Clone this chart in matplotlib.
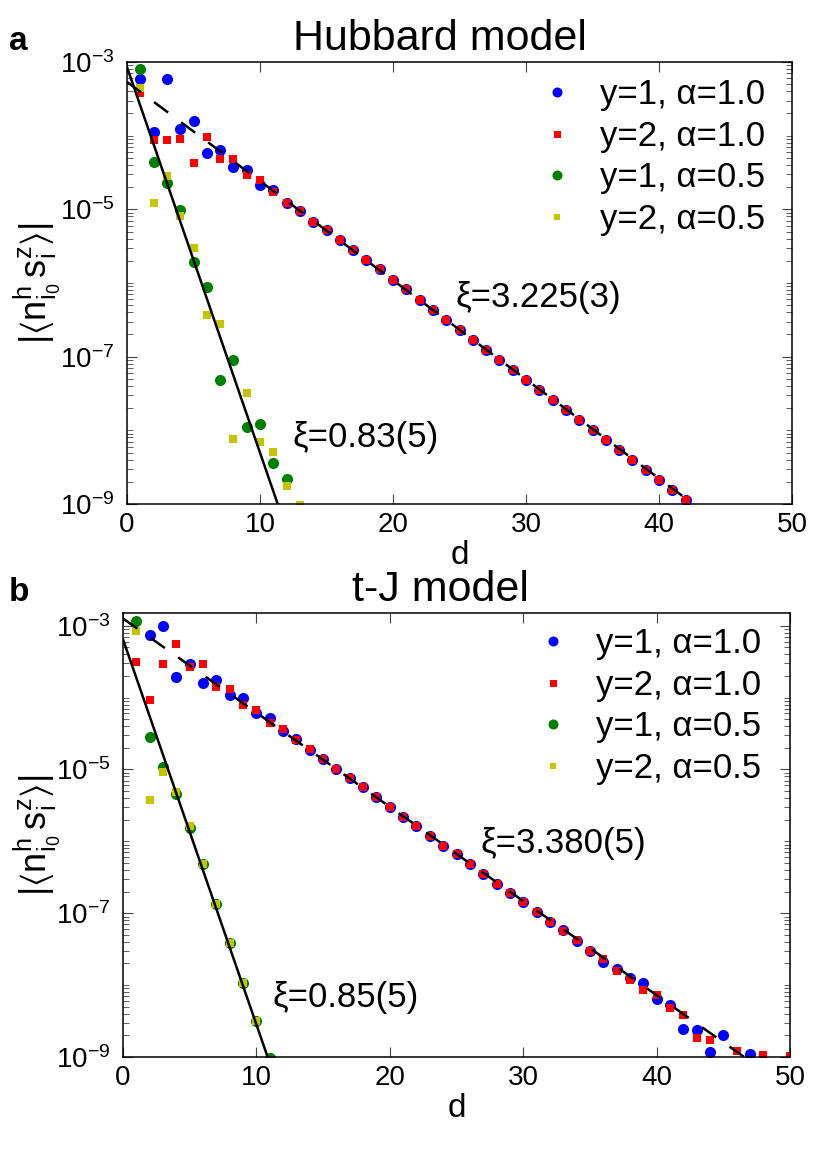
import numpy as np
import matplotlib
matplotlib.use("Agg")
import matplotlib.pyplot as plt
from matplotlib.ticker import FixedLocator, LogLocator, NullFormatter, FuncFormatter

plt.rcParams['font.family'] = ['Liberation Sans', 'DejaVu Sans']
plt.rcParams['mathtext.fontset'] = 'custom'
plt.rcParams['mathtext.rm'] = 'Liberation Sans'
plt.rcParams['mathtext.it'] = 'Liberation Sans:italic'
plt.rcParams['mathtext.fallback'] = 'stixsans'

############ data (log10 of |<n^h s^z>|) ############
# panel a: Hubbard model
a_d_blue = list(range(1, 43))
a_log_blue = [-3.235, -3.944, -3.235, -3.913, -3.80, -4.23, -4.19, -4.43, -4.47, -4.67,
              -4.74, -4.91, -5.02, -5.17, -5.28, -5.42, -5.55, -5.69, -5.81, -5.96,
              -6.08, -6.23, -6.365, -6.50, -6.64, -6.77, -6.91, -7.04, -7.18, -7.31,
              -7.45, -7.59, -7.72, -7.86, -8.00, -8.13, -8.27, -8.40, -8.54, -8.68,
              -8.81, -8.94]
a_d_red = list(range(1, 43))
a_log_red = [-3.42, -4.06, -4.06, -4.05, -4.37, -4.02, -4.32, -4.31, -4.54, -4.60,
             -4.77, -4.91, -5.02, -5.17, -5.28, -5.42, -5.55, -5.69, -5.81, -5.96,
             -6.08, -6.23, -6.365, -6.50, -6.64, -6.77, -6.91, -7.04, -7.18, -7.31,
             -7.45, -7.59, -7.72, -7.86, -8.00, -8.13, -8.27, -8.40, -8.54, -8.68,
             -8.81, -8.94]
a_d_green = list(range(1, 13))
a_log_green = [-3.09, -4.36, -4.64, -5.01, -5.72, -6.05, -7.32, -7.05, -7.96, -7.91,
               -8.44, -8.66]
a_d_yellow = list(range(1, 14))
a_log_yellow = [-3.35, -4.92, -4.55, -5.09, -5.52, -6.43, -6.56, -8.12, -7.50, -8.16,
                -8.30, -8.75, -9.02]

# panel b: t-J model
b_d_blue = list(range(2, 46)) + [47]
b_log_blue = [-3.135, -3.00, -3.71, -3.53, -3.80, -3.75, -3.97, -4.01, -4.22, -4.29,
              -4.47, -4.58, -4.73, -4.85, -4.99, -5.12, -5.25, -5.385, -5.52, -5.655,
              -5.79, -5.92, -6.06, -6.18, -6.32, -6.45, -6.59, -6.72, -6.85, -6.98,
              -7.12, -7.24, -7.39, -7.52, -7.68, -7.77, -7.905, -7.975, -8.20, -8.28,
              -8.61, -8.62, -8.93, -8.69, -8.96]
b_d_red = list(range(1, 45)) + [46, 48, 50]
b_log_red = [-3.50, -4.04, -3.54, -3.25, -3.57, -3.53, -3.85, -3.88, -4.10, -4.17,
             -4.35, -4.44, -4.59, -4.72, -4.85, -4.99, -5.12, -5.25, -5.385, -5.52,
             -5.655, -5.79, -5.92, -6.06, -6.18, -6.32, -6.45, -6.59, -6.72, -6.85,
             -6.98, -7.12, -7.25, -7.37, -7.52, -7.64, -7.80, -7.93, -8.07, -8.14,
             -8.32, -8.415, -8.73, -8.77, -8.91, -8.97, -8.99]
b_d_green = list(range(1, 12))
b_log_green = [-2.94, -4.555, -4.96, -5.34, -5.82, -6.31, -6.87, -7.41, -7.97, -8.50, -9.01]
b_d_yellow = list(range(1, 11))
b_log_yellow = [-3.08, -5.43, -5.03, -5.32, -5.79, -6.31, -6.87, -7.41, -7.97, -8.50]

# fitted exponential decays, as two end points (d, log10)
a_fit_long = [(0, -3.27), (50, -10.0)]
a_fit_short = [(0, -3.07), (12, -9.35)]
b_fit_long = [(0, -2.90), (50, -9.45)]
b_fit_short = [(0, -3.19), (12, -9.62)]

labels = ["y=1, α=1.0", "y=2, α=1.0", "y=1, α=0.5", "y=2, α=0.5"]
###############################################

W, H = 831, 1154
fig = plt.figure(figsize=(W / 100, H / 100), dpi=100)


def ylab(v, pos):
    return r'$\mathregular{10^{%d}}$' % int(round(np.log10(v)))


def panel(rect_px, ylim, series, fits, title, letter, xi_texts, leg_anchor):
    l, t, r, b = rect_px
    ax = fig.add_axes([l / W, 1 - b / H, (r - l) / W, (b - t) / H])
    styles = [('o', 'blue', 8.0), ('s', 'red', 5.6), ('o', 'green', 8.0), ('s', '#c4c400', 5.4)]
    for (d, lg), lab, (mk, c, ms) in zip(series, labels, styles):
        ax.plot(d, 10.0 ** np.array(lg), mk, color=c, ms=ms, mec=c, mew=0, label=lab)
    for (p0, p1), ls in zip(fits, ['--', '-']):
        ln, = ax.plot([p0[0], p1[0]], [10.0 ** p0[1], 10.0 ** p1[1]], ls, color='black', lw=1.8)
        if ls == '--':
            ln.set_dashes((7, 6.5))
    ax.set_yscale('log')
    ax.set_xlim(0, 50)
    ax.set_ylim(*ylim)
    ax.set_xticks(range(0, 51, 10))
    ax.yaxis.set_major_locator(FixedLocator([1e-3, 1e-5, 1e-7, 1e-9]))
    ax.yaxis.set_major_formatter(FuncFormatter(ylab))
    ax.yaxis.set_minor_locator(LogLocator(base=10, subs=np.arange(1, 10), numticks=100))
    ax.yaxis.set_minor_formatter(NullFormatter())
    ax.tick_params(which='both', direction='in', top=True, right=True, labelsize=20, color='#444444')
    ax.tick_params(axis='x', which='major', length=7, pad=6)
    ax.tick_params(axis='y', which='major', length=7, pad=9)
    ax.tick_params(which='minor', length=4)
    for s in ax.spines.values():
        s.set_linewidth(1.1)
    ax.set_xlabel('d', fontsize=24, labelpad=1)
    ax.set_ylabel(r'$\mathrm{|\langle n^{h}_{i_0}\, s^{z}_{i}\rangle|}$', fontsize=26)
    ax.yaxis.set_label_coords((63 - l) / (r - l), 0.5)
    ax.legend(loc='upper left', bbox_to_anchor=(leg_anchor[0] / W, 1 - leg_anchor[1] / H),
              bbox_transform=fig.transFigure,
              frameon=False, fontsize=25, handlelength=1.0, handletextpad=0.72,
              labelspacing=0.25, borderpad=0, borderaxespad=0, markerscale=0.9,
              numpoints=1)
    fig.text(440 / W, 1 - (t - 12) / H, title, ha='center', va='baseline', fontsize=31)
    fig.text(9 / W, 1 - (t - 12) / H, letter, ha='left', va='baseline', fontsize=24,
             fontweight='bold')
    for (x, y, s) in xi_texts:
        fig.text(x / W, 1 - y / H, s, ha='left', va='center', fontsize=25)
    return ax


panel((127, 62, 792, 504), (1e-9, 1e-3),
      [(a_d_blue, a_log_blue), (a_d_red, a_log_red),
       (a_d_green, a_log_green), (a_d_yellow, a_log_yellow)],
      [a_fit_long, a_fit_short], 'Hubbard model', 'a',
      [(455, 297, 'ξ=3.225(3)'), (293, 438, 'ξ=0.83(5)')],
      (540, 78))

panel((123, 613, 790, 1057), (1e-9, 1.5e-3),
      [(b_d_blue, b_log_blue), (b_d_red, b_log_red),
       (b_d_green, b_log_green), (b_d_yellow, b_log_yellow)],
      [b_fit_long, b_fit_short], 't-J model', 'b',
      [(480, 843, 'ξ=3.380(5)'), (273, 997, 'ξ=0.85(5)')],
      (536, 627))

fig.savefig('out.png', dpi=100)
